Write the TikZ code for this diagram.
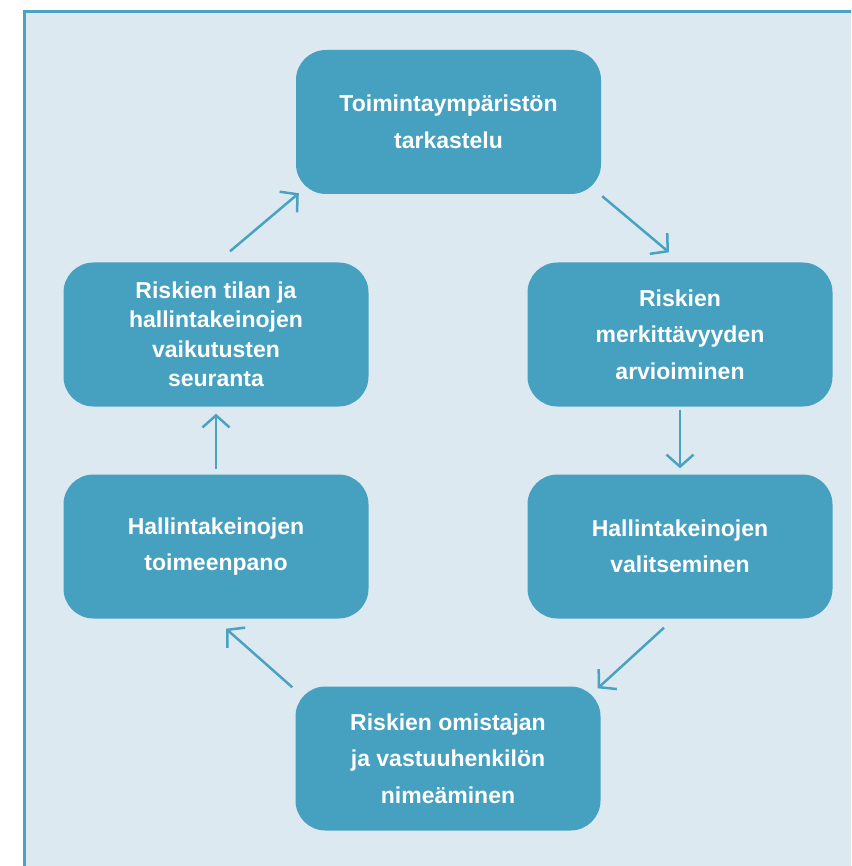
\documentclass[tikz,border=0pt]{standalone}
\usepackage{fontspec}
\setmainfont{Liberation Sans}
\usetikzlibrary{arrows.meta}
\definecolor{framec}{HTML}{4AA3C3}
\definecolor{bgc}{HTML}{DCE9F1}
\definecolor{boxc}{HTML}{46A0BF}
\definecolor{arrc}{HTML}{4AA2C1}
\tikzset{
  stagebox/.style={draw=none, fill=boxc, rounded corners=30pt, minimum width=305pt, minimum height=144pt,
    align=center, text=white, font=\bfseries\fontsize{23}{36.5}\selectfont, inner sep=0pt},
  tightbox/.style={stagebox, font=\bfseries\fontsize{23}{29.5}\selectfont},
  arr/.style={draw=arrc, line width=2.5pt, -{Straight Barb[length=12pt, width=27pt]}}
}
\begin{document}
\begin{tikzpicture}[x=1pt, y=-1pt]
\useasboundingbox (0,0) rectangle (851,866);
\begin{scope}
\clip (0,0) rectangle (851,866);
\fill[white] (0,0) rectangle (851,866);
\draw[fill=bgc, draw=framec, line width=3pt] (24,12) rectangle (900,920);
\end{scope}
\node[stagebox] (a) at (448.5,122) {Toimintaympäristön\\tarkastelu};
\node[stagebox] (b) at (680,334.5) {Riskien\\merkittävyyden\\arvioiminen};
\node[stagebox] (d) at (680,546.5) {Hallintakeinojen\\valitseminen};
\node[stagebox] (e) at (448,758.5) {Riskien omistajan\\ja vastuuhenkilön\\nimeäminen};
\node[stagebox] (c) at (216,546.5) {Hallintakeinojen\\toimeenpano};
\node[tightbox] (f) at (216,334.5) {Riskien tilan ja\\hallintakeinojen\\vaikutusten\\seuranta};
\draw[arr] ([shift={(1,2)}]a.south east) -- ([shift={(-11,-10)}]b.north);
\draw[arr] ([shift={(0,3)}]b.south) -- ([shift={(0,-6)}]d.north);
\draw[arr] ([shift={(-16,9)}]d.south) -- ([shift={(-3,2)}]e.north east);
\draw[arr] ([shift={(-3,1)}]e.north west) -- ([shift={(10,10)}]c.south);
\draw[arr] ([shift={(0,-5)}]c.north) -- ([shift={(0,7)}]f.south);
\draw[arr] ([shift={(14,-11)}]f.north) -- ([shift={(3,-1)}]a.south west);
\end{tikzpicture}
\end{document}
